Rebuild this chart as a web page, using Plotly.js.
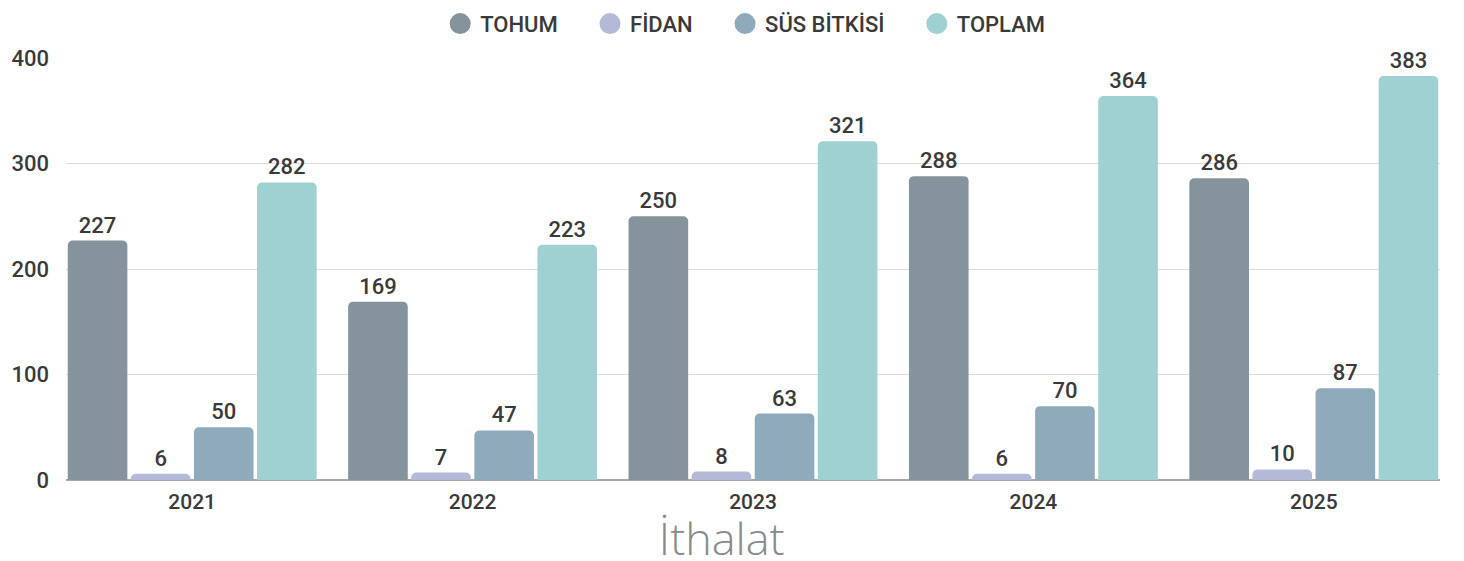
<!DOCTYPE html>
<html>
<head>
<meta charset="utf-8">
<script src="https://cdn.plot.ly/plotly-3.0.1.min.js"></script>
<style>html,body{margin:0;padding:0;background:#fff;}#chart{width:1464px;height:561px;}</style>
</head>
<body>
<div id="chart"></div>
<script>
const years = ['2021', '2022', '2023', '2024', '2025'];
const seriesNames = ['TOHUM', 'FİDAN', 'SÜS BİTKİSİ', 'TOPLAM'];
const tohum = [227, 169, 250, 288, 286];
const fidan = [6, 7, 8, 6, 10];
const susBitkisi = [50, 47, 63, 70, 87];
const toplam = [282, 223, 321, 364, 383];
const colors = ['#84939c', '#b3b9d7', '#8eaabb', '#a0d1d2'];
const yTicks = [0, 100, 200, 300, 400];
const titleText = 'İthalat';

const FONT = 'Roboto, "Liberation Sans", Arial, sans-serif';
const values = [tohum, fidan, susBitkisi, toplam];
const PAD = '\u00a0\u00a0\u00a0\u00a0\u00a0';

const traces = [];
values.forEach((v, i) => {
  traces.push({
    type: 'bar', x: years, y: v, name: seriesNames[i],
    marker: {color: colors[i]},
    text: v.map(String), textposition: 'outside', cliponaxis: false,
    textfont: {family: FONT, size: 22, color: '#3a3a3a', weight: 500},
    showlegend: false, hoverinfo: 'x+y'
  });
});
values.forEach((v, i) => {
  traces.push({
    type: 'scatter', mode: 'markers', x: [null], y: [null], name: seriesNames[i] + PAD,
    marker: {color: colors[i], size: 16, symbol: 'circle', line: {color: colors[i], width: 5}},
    showlegend: true, hoverinfo: 'skip'
  });
});

const layout = {
  width: 1464, height: 561,
  margin: {l: 66, r: 24, t: 58, b: 81},
  paper_bgcolor: '#ffffff', plot_bgcolor: '#ffffff',
  barmode: 'group', bargap: 0.1, bargroupgap: 0.055,
  barcornerradius: 5,
  font: {family: FONT, color: '#3a3a3a'},
  title: {
    text: titleText, font: {family: '"Open Sans", Lato, sans-serif', size: 45, color: '#8a8a8a', weight: 300},
    x: 0.493, xref: 'container', xanchor: 'center',
    y: 0.011, yref: 'container', yanchor: 'bottom', pad: {b: 0}
  },
  legend: {
    orientation: 'h', x: 0.5045, xanchor: 'center', y: 0.995, yref: 'container', yanchor: 'top',
    font: {family: FONT, size: 22, color: '#3a3a3a', weight: 500},
    itemwidth: 30, tracegroupgap: 0
  },
  xaxis: {
    type: 'category', range: [-0.45, 4.45],
    showgrid: false, zeroline: false, showline: false,
    tickfont: {family: FONT, size: 21, color: '#3a3a3a', weight: 500},
    ticks: '', ticklabelstandoff: 7
  },
  yaxis: {
    range: [0, 400], tickvals: yTicks, ticktext: yTicks.map(String),
    showgrid: true, gridcolor: '#dcdcdc', gridwidth: 1,
    zeroline: true, zerolinecolor: '#a8a8a8', zerolinewidth: 2,
    showline: false, ticks: '',
    tickfont: {family: FONT, size: 22, color: '#3a3a3a', weight: 500},
    ticklabelstandoff: 16
  },
  showlegend: true
};

Plotly.newPlot('chart', traces, layout, {displayModeBar: false, staticPlot: true});
</script>
</body>
</html>
